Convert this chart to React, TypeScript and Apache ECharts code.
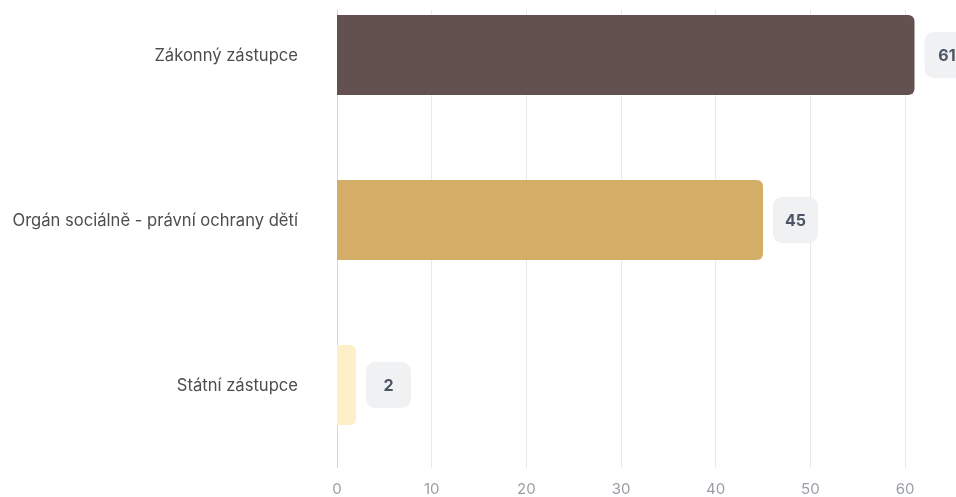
import React, { useEffect, useRef } from "react";
import * as echarts from "echarts";

const categories = ["Zákonný zástupce", "Orgán sociálně - právní ochrany dětí", "Státní zástupce"];
const values = [61, 45, 2];
const barColors = ["#635150", "#d4ad66", "#fdefc8"];
const xTicks = [0, 10, 20, 30, 40, 50, 60];

const SHIFT = 40;

export default function App() {
  const ref = useRef<HTMLDivElement>(null);
  useEffect(() => {
    if (!ref.current) return;
    const chart = echarts.init(ref.current, null, { renderer: "svg" });
    const font = "Inter, 'Noto Sans', sans-serif";
    chart.setOption({
      animation: false,
      grid: [
        { left: 337, right: 41.5, top: 10 + SHIFT, bottom: 29, containLabel: false },
        { left: 337, right: 41.5, top: -27.5 + SHIFT, height: 495, containLabel: false },
      ],
      xAxis: [
        {
          gridIndex: 0,
          type: "value",
          min: 0,
          max: 61,
          interval: 10,
          axisLine: { show: false },
          axisTick: { show: false },
          splitLine: {
            show: true,
            showMinLine: false,
            showMaxLine: false,
            lineStyle: { color: "#e9e9e9", width: 1 },
          },
          axisLabel: {
            color: "#999ea6",
            fontSize: 15,
            lineHeight: 15,
            fontFamily: font,
            margin: 13,
            formatter: (v: number) => (xTicks.includes(v) ? String(v) : ""),
          },
        },
        {
          gridIndex: 1,
          type: "value",
          min: 0,
          max: 61,
          show: false,
        },
      ],
      yAxis: [
        {
          gridIndex: 0,
          type: "category",
          data: categories,
          inverse: true,
          axisLine: { show: true, lineStyle: { color: "#ccd6eb", width: 1 } },
          axisTick: { show: false },
          axisLabel: { show: false },
          splitLine: { show: false },
        },
        {
          gridIndex: 1,
          type: "category",
          data: categories,
          inverse: true,
          axisLine: { show: false },
          axisTick: { show: false },
          splitLine: { show: false },
          axisLabel: {
            color: "#4d4d4d",
            fontSize: 16.6,
            fontFamily: font,
            margin: 39,
          },
        },
      ],
      series: [
        {
          type: "bar",
          xAxisIndex: 1,
          yAxisIndex: 1,
          barWidth: 80,
          data: values.map((v, i) => ({
            value: v,
            itemStyle: { color: barColors[i], borderRadius: [0, 6, 6, 0] },
          })),
          label: {
            show: true,
            position: "right",
            distance: 10,
            formatter: "{v|{c}}",
            backgroundColor: "#f0f1f2",
            borderRadius: 9,
            padding: [13, 12],
            rich: {
              v: {
                width: 21,
                align: "center",
                color: "#4a5565",
                fontSize: 16,
                fontWeight: "bold",
                fontFamily: font,
                lineHeight: 20,
              },
            },
          },
        },
      ],
    });
    return () => chart.dispose();
  }, []);
  return (
    <div
      ref={ref}
      style={{ position: "fixed", left: 0, top: -SHIFT, width: 956, height: 497 + SHIFT }}
    />
  );
}
